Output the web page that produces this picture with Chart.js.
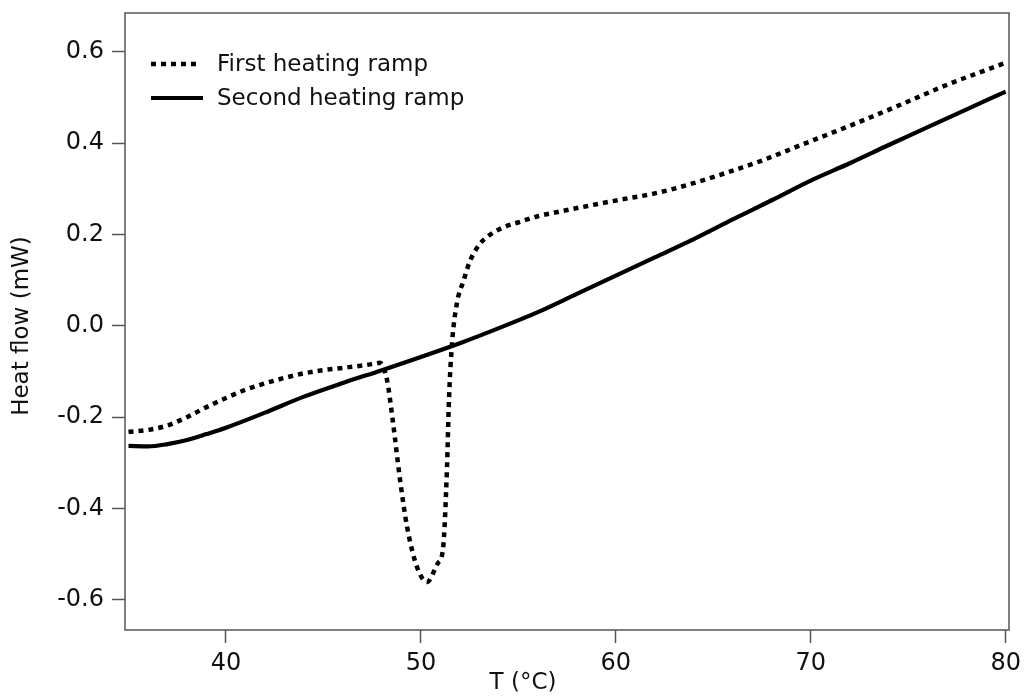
<!DOCTYPE html>
<html>
<head>
<meta charset="utf-8">
<script src="https://cdn.jsdelivr.net/npm/chart.js@4.4.1/dist/chart.umd.min.js"></script>
<style>
  html, body { margin: 0; padding: 0; background: #fff; }
  #wrap { width: 1024px; height: 697px; }
</style>
</head>
<body>
<div id="wrap"><canvas id="dscChart"></canvas></div>
<script>
// temperature (°C) and heat flow (mW)
const firstT = [35, 36, 37, 38, 39, 40, 41, 42, 43, 44, 45, 46, 47, 47.6, 47.9, 48.26, 48.57, 48.93, 49.29, 49.8, 50.31, 50.88, 51.13, 51.34, 51.44, 51.6, 51.85, 52.2, 52.5, 53, 53.5, 54.2, 55.1, 56, 57.1, 58.5, 60.2, 62, 63.3, 65.3, 67.5, 69.5, 72, 74.6, 77, 80];
const firstHF = [-0.232, -0.228, -0.218, -0.2, -0.178, -0.158, -0.14, -0.126, -0.114, -0.104, -0.097, -0.092, -0.087, -0.083, -0.081, -0.118, -0.212, -0.337, -0.44, -0.528, -0.561, -0.519, -0.49, -0.309, -0.162, -0.037, 0.05, 0.1, 0.14, 0.178, 0.198, 0.215, 0.228, 0.24, 0.25, 0.262, 0.276, 0.29, 0.304, 0.33, 0.362, 0.396, 0.438, 0.484, 0.528, 0.576];

const secondT = [35, 36, 37, 38, 39, 40, 42, 44, 46, 48, 50, 52, 54, 56, 58, 60, 62, 64, 66, 68, 70, 72, 74, 76, 78, 80];
const secondHF = [-0.263, -0.264, -0.259, -0.25, -0.237, -0.223, -0.19, -0.155, -0.125, -0.097, -0.068, -0.038, -0.005, 0.03, 0.07, 0.11, 0.15, 0.19, 0.233, 0.275, 0.318, 0.356, 0.396, 0.435, 0.474, 0.513];

const seriesNames = ['First heating ramp', 'Second heating ramp'];
const xTicks = [40, 50, 60, 70, 80];
const yTicks = [-0.6, -0.4, -0.2, 0.0, 0.2, 0.4, 0.6];
const xTitle = 'T (°C)';
const yTitle = 'Heat flow (mW)';

const toPoints = (xs, ys) => xs.map((x, i) => ({ x: x, y: ys[i] }));

const FONT = 'DejaVu Sans, Verdana, sans-serif';
const AXIS_GREY = '#555';
const TEXT = '#111';

// frame around the plot area
const frameBox = {
    id: 'frameBox',
    beforeDatasetsDraw(chart) {
        const { ctx, chartArea: a } = chart;
        ctx.save();
        ctx.strokeStyle = AXIS_GREY;
        ctx.lineWidth = 1.5;
        ctx.strokeRect(a.left, a.top, a.right - a.left, a.bottom - a.top);
        ctx.restore();
    }
};

// legend in the top-left corner of the plot, plus the axis titles
const labelsLayer = {
    id: 'labelsLayer',
    afterDatasetsDraw(chart) {
        const { ctx, chartArea: a } = chart;
        ctx.save();
        ctx.font = '23px ' + FONT;
        ctx.fillStyle = TEXT;
        ctx.textBaseline = 'middle';
        chart.data.datasets.forEach((ds, i) => {
            const y = a.top + 51 + i * 34;
            ctx.strokeStyle = ds.borderColor;
            ctx.lineWidth = ds.borderWidth;
            ctx.setLineDash(ds.borderDash || []);
            ctx.beginPath();
            ctx.moveTo(a.left + 26, y);
            ctx.lineTo(a.left + (ds.borderDash ? 75 : 78), y);
            ctx.stroke();
            ctx.setLineDash([]);
            ctx.fillText(ds.label, a.left + 92, y + 1);
        });

        ctx.textAlign = 'center';
        ctx.font = '23px ' + FONT;
        ctx.fillText(xTitle, 523, 683);

        ctx.translate(22, 326);
        ctx.rotate(-Math.PI / 2);
        ctx.font = '23px ' + FONT;
        ctx.fillText(yTitle, 0, 0);
        ctx.restore();
    }
};

const ctx = document.getElementById('dscChart').getContext('2d');
const dscChart = new Chart(ctx, {
    type: 'line',
    data: {
        datasets: [{
            label: seriesNames[0],
            data: toPoints(firstT, firstHF),
            borderColor: '#000',
            borderWidth: 4.5,
            borderDash: [5, 5],
            pointRadius: 0,
            cubicInterpolationMode: 'monotone',
            fill: false
        }, {
            label: seriesNames[1],
            data: toPoints(secondT, secondHF),
            borderColor: '#000',
            borderWidth: 4.2,
            pointRadius: 0,
            cubicInterpolationMode: 'monotone',
            fill: false
        }]
    },
    options: {
        responsive: true,
        maintainAspectRatio: false,
        animation: false,
        layout: { padding: { left: 0, right: 15, top: 13, bottom: 0 } },
        plugins: {
            legend: { display: false },
            tooltip: { enabled: false }
        },
        scales: {
            x: {
                type: 'linear',
                min: 34.82,
                max: 80.17,
                afterBuildTicks: scale => { scale.ticks = xTicks.map(v => ({ value: v })); },
                afterFit: scale => {
                    scale.height = 67;
                    scale.paddingLeft = 0;
                    scale.paddingRight = 0;
                },
                grid: { drawOnChartArea: false, tickLength: 13, tickColor: AXIS_GREY, tickWidth: 1.5 },
                border: { display: false },
                ticks: { color: TEXT, font: { family: FONT, size: 24 }, padding: 6, maxRotation: 0 }
            },
            y: {
                type: 'linear',
                min: -0.666,
                max: 0.685,
                afterBuildTicks: scale => { scale.ticks = yTicks.map(v => ({ value: v })); },
                afterFit: scale => {
                    scale.width = 125;
                    scale.paddingTop = 0;
                    scale.paddingBottom = 0;
                },
                grid: { drawOnChartArea: false, tickLength: 13, tickColor: AXIS_GREY, tickWidth: 1.5 },
                border: { display: false },
                ticks: {
                    color: TEXT,
                    font: { family: FONT, size: 24 },
                    padding: 8,
                    callback: v => v.toFixed(1)
                }
            }
        }
    },
    plugins: [frameBox, labelsLayer]
});
</script>
</body>
</html>
